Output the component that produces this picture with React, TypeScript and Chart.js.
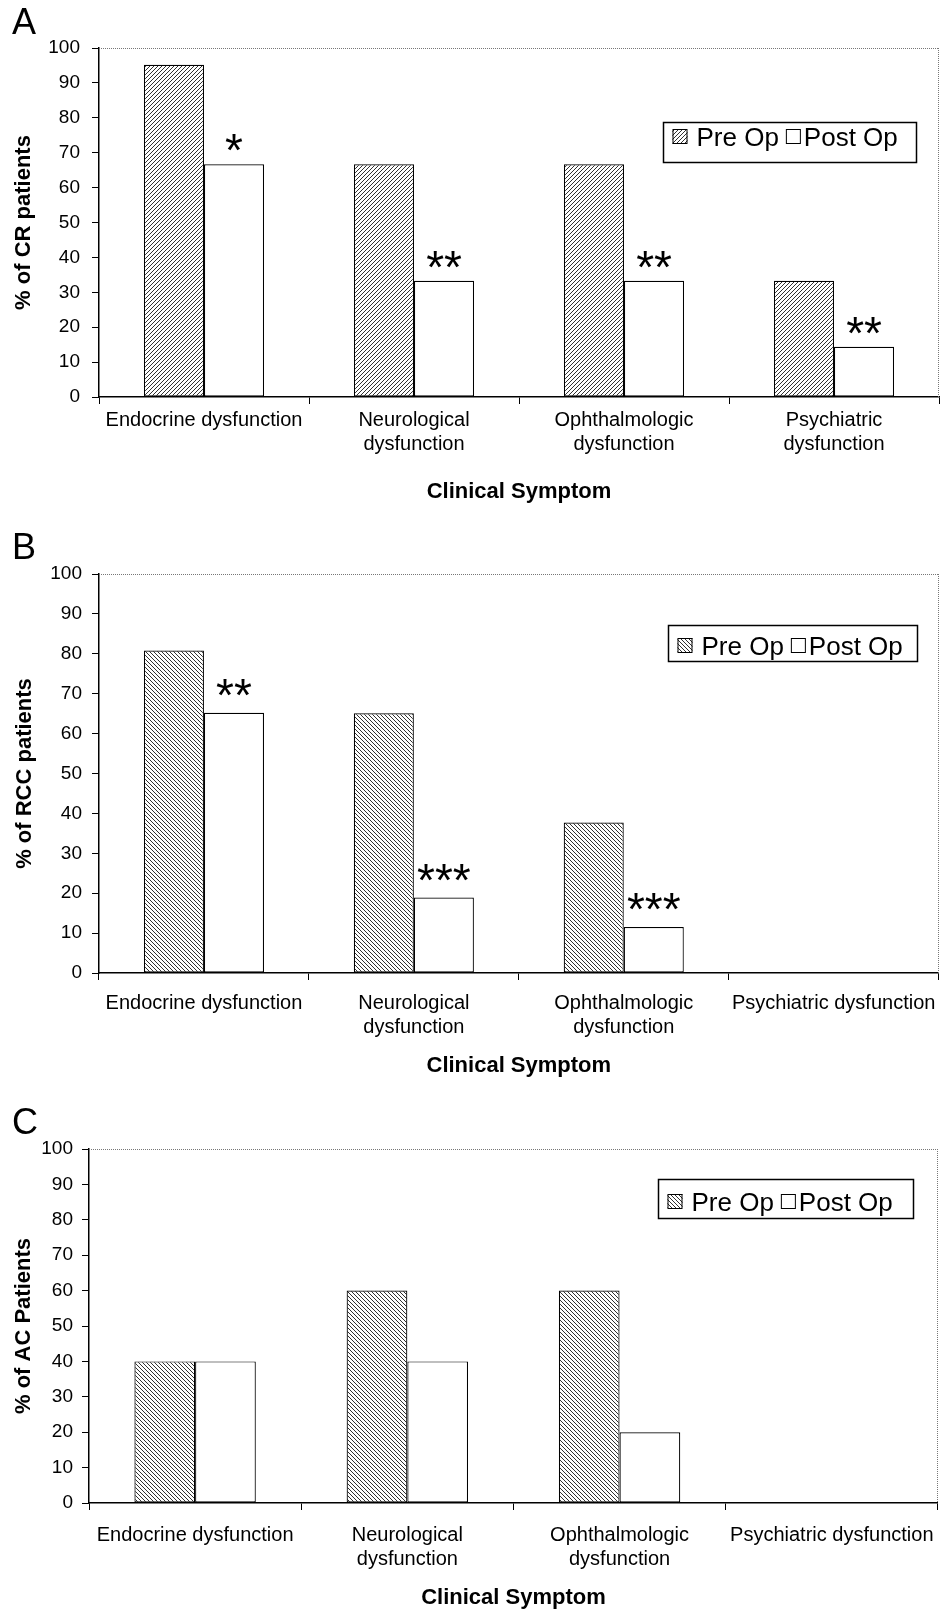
import React, { useEffect, useRef } from 'react';
import { Chart, registerables } from 'chart.js';

Chart.register(...registerables);

// ---------------- data ----------------
const seriesLabels = ['Pre Op', 'Post Op'];
const xTitle = 'Clinical Symptom';
const yMin = 0;
const yMax = 100;
const yStep = 10;

const categoriesA = [
  ['Endocrine dysfunction'],
  ['Neurological', 'dysfunction'],
  ['Ophthalmologic', 'dysfunction'],
  ['Psychiatric', 'dysfunction'],
];
const categoriesBC = [
  ['Endocrine dysfunction'],
  ['Neurological', 'dysfunction'],
  ['Ophthalmologic', 'dysfunction'],
  ['Psychiatric dysfunction'],
];

const preOpA = [95.2, 66.7, 66.7, 33.3];
const postOpA = [66.7, 33.3, 33.3, 14.4];
const sigA = ['*', '**', '**', '**'];

const preOpB = [80.8, 65.1, 37.7, 0];
const postOpB = [65.2, 18.9, 11.5, 0];
const sigB = ['**', '***', '***', ''];

const preOpC = [40, 60, 60, 0];
const postOpC = [40, 40, 20, 0];
const sigC = ['', '', '', ''];

const panelLetters = ['A', 'B', 'C'];
const yTitles = ['% of CR patients', '% of RCC patients', '% of AC Patients'];

// ---------------- layout / style config ----------------
const FONT = '"Liberation Sans", Arial, Helvetica, sans-serif';

type Panel = {
  letter: string;
  yTitle: string;
  labels: string[][];
  pre: number[];
  post: number[];
  sig: string[];
  hatchDir: 'fwd' | 'back';
  top: number;
  height: number;
  padTop: number;
  padRight: number;
  yWidth: number;
  yTickPad: number;
  yTitlePad: number;
  xHeight: number;
  xTickPad: number;
  letterBaseline: number;
  sigGap: number;
  legend: { rightGap: number; top: number; w: number; h: number; mid: number };
};

const panels: Panel[] = [
  {
    letter: panelLetters[0], yTitle: yTitles[0], labels: categoriesA,
    pre: preOpA, post: postOpA, sig: sigA, hatchDir: 'fwd',
    top: 0, height: 505, padTop: 48, padRight: 8, yWidth: 99, yTickPad: 12, yTitlePad: 11,
    xHeight: 108, xTickPad: 4, letterBaseline: 34, sigGap: 13,
    legend: { rightGap: 23, top: 74, w: 253, h: 40, mid: 14 },
  },
  {
    letter: panelLetters[1], yTitle: yTitles[1], labels: categoriesBC,
    pre: preOpB, post: postOpB, sig: sigB, hatchDir: 'back',
    top: 530, height: 549, padTop: 44, padRight: 5, yWidth: 99, yTickPad: 10, yTitlePad: 12,
    xHeight: 106, xTickPad: 11, letterBaseline: 29, sigGap: 17,
    legend: { rightGap: 22, top: 51, w: 249, h: 36, mid: 20 },
  },
  {
    letter: panelLetters[2], yTitle: yTitles[2], labels: categoriesBC,
    pre: preOpC, post: postOpC, sig: sigC, hatchDir: 'back',
    top: 1100, height: 511, padTop: 49, padRight: 4, yWidth: 89, yTickPad: 9, yTitlePad: 11,
    xHeight: 108, xTickPad: 13, letterBaseline: 34, sigGap: 15,
    legend: { rightGap: 25, top: 30, w: 255, h: 39, mid: 22 },
  },
];

function makeHatch(ctx: CanvasRenderingContext2D, dir: 'fwd' | 'back', period: number) {
  const c = document.createElement('canvas');
  c.width = period;
  c.height = period;
  const g = c.getContext('2d')!;
  g.fillStyle = '#fff';
  g.fillRect(0, 0, period, period);
  g.strokeStyle = '#1a1a1a';
  g.lineWidth = 0.9;
  g.beginPath();
  if (dir === 'fwd') {
    g.moveTo(-1, period + 1);
    g.lineTo(period + 1, -1);
    g.moveTo(-1, 1);
    g.lineTo(1, -1);
    g.moveTo(period - 1, period + 1);
    g.lineTo(period + 1, period - 1);
  } else {
    g.moveTo(-1, -1);
    g.lineTo(period + 1, period + 1);
    g.moveTo(period - 1, -1);
    g.lineTo(period + 1, 1);
    g.moveTo(-1, period - 1);
    g.lineTo(1, period + 1);
  }
  g.stroke();
  return ctx.createPattern(c, 'repeat') as CanvasPattern;
}

function PanelChart({ p }: { p: Panel }) {
  const ref = useRef<HTMLCanvasElement | null>(null);

  useEffect(() => {
    const canvas = ref.current!;
    const ctx = canvas.getContext('2d')!;
    const hatch = makeHatch(ctx, p.hatchDir, 4);

    const decor = {
      id: 'decor' + p.letter,
      beforeDatasetsDraw(chart: any) {
        const { ctx: c, chartArea: a } = chart;
        c.save();
        c.strokeStyle = '#777';
        c.lineWidth = 1;
        c.setLineDash([1, 1]);
        c.beginPath();
        c.moveTo(a.left, Math.round(a.top) + 0.5);
        c.lineTo(a.right, Math.round(a.top) + 0.5);
        c.moveTo(Math.round(a.right) - 0.5, a.top);
        c.lineTo(Math.round(a.right) - 0.5, a.bottom);
        c.stroke();
        c.restore();
      },
      afterDatasetsDraw(chart: any) {
        const { ctx: c } = chart;
        c.save();
        c.font = `46px ${FONT}`;
        c.fillStyle = '#000';
        c.textAlign = 'center';
        c.textBaseline = 'alphabetic';
        const meta = chart.getDatasetMeta(1);
        meta.data.forEach((el: any, i: number) => {
          const s = p.sig[i];
          if (!s) return;
          const { x, y } = el.getProps(['x', 'y'], true);
          const m = c.measureText(s);
          const base = y - p.sigGap - m.actualBoundingBoxDescent;
          c.fillText(s, x, base);
        });
        c.restore();
      },
      afterDraw(chart: any) {
        const { ctx: c, chartArea: a } = chart;
        c.save();
        // panel letter
        c.font = `36px ${FONT}`;
        c.fillStyle = '#000';
        c.textAlign = 'left';
        c.textBaseline = 'alphabetic';
        c.fillText(p.letter, 12, p.letterBaseline);

        // legend
        const L = p.legend;
        const x0 = Math.round(a.right - L.rightGap - L.w) + 0.5;
        const y0 = Math.round(a.top + L.top) + 0.5;
        c.fillStyle = '#fff';
        c.fillRect(x0, y0, L.w, L.h);
        c.strokeStyle = '#000';
        c.lineWidth = 1.5;
        c.strokeRect(x0, y0, L.w, L.h);
        const mid = y0 + L.mid;
        const sw = 15;
        const fs = 26;
        c.font = `${fs}px ${FONT}`;
        const base = mid + (0.716 * fs) / 2;
        let x = x0 + 9;
        c.fillStyle = hatch;
        c.fillRect(x, Math.round(mid - sw / 2), sw, sw);
        c.lineWidth = 1;
        c.strokeRect(x + 0.5, Math.round(mid - sw / 2) + 0.5, sw - 1, sw - 1);
        x += sw + 9;
        c.fillStyle = '#000';
        c.fillText(seriesLabels[0], x, base);
        x += c.measureText(seriesLabels[0]).width + 7;
        c.fillStyle = '#fff';
        c.fillRect(x, Math.round(mid - sw / 2), sw, sw);
        c.strokeRect(x + 0.5, Math.round(mid - sw / 2) + 0.5, sw - 1, sw - 1);
        x += sw + 3;
        c.fillStyle = '#000';
        c.fillText(seriesLabels[1], x, base);
        c.restore();
      },
    };

    const chart = new Chart(ctx, {
      type: 'bar',
      data: {
        labels: p.labels,
        datasets: [
          {
            label: seriesLabels[0],
            data: p.pre,
            backgroundColor: hatch,
            borderColor: '#000',
            borderWidth: 1.2,
            borderSkipped: false,
            categoryPercentage: 0.572,
            barPercentage: 1.0,
          },
          {
            label: seriesLabels[1],
            data: p.post,
            backgroundColor: '#fff',
            borderColor: '#000',
            borderWidth: 1.2,
            borderSkipped: false,
            categoryPercentage: 0.572,
            barPercentage: 1.0,
          },
        ],
      },
      options: {
        responsive: false,
        animation: false,
        devicePixelRatio: 1,
        layout: { padding: { top: p.padTop, right: p.padRight, left: 0, bottom: 0 } },
        plugins: {
          legend: { display: false },
          tooltip: { enabled: false },
          title: { display: false },
        },
        scales: {
          x: {
            grid: {
              display: true,
              drawOnChartArea: false,
              drawTicks: true,
              tickLength: 7,
              color: '#000',
              lineWidth: 1,
              offset: true,
            },
            border: { display: true, color: '#000', width: 1.5 },
            ticks: {
              color: '#000',
              font: { family: FONT, size: 20, lineHeight: 1.225 },
              padding: p.xTickPad,
              autoSkip: false,
              maxRotation: 0,
              minRotation: 0,
            },
            title: {
              display: true,
              text: xTitle,
              color: '#000',
              font: { family: FONT, size: 22, weight: 'bold', lineHeight: 1.2 },
              padding: { top: 0, bottom: 0 },
            },
            afterFit(scale: any) {
              scale.height = p.xHeight;
            },
          },
          y: {
            min: yMin,
            max: yMax,
            grid: {
              display: true,
              drawOnChartArea: false,
              drawTicks: true,
              tickLength: 7,
              color: '#000',
              lineWidth: 1,
            },
            border: { display: true, color: '#000', width: 1.5 },
            ticks: {
              stepSize: yStep,
              color: '#000',
              font: { family: FONT, size: 19 },
              padding: p.yTickPad,
            },
            title: {
              display: true,
              text: p.yTitle,
              color: '#000',
              font: { family: FONT, size: 22, weight: 'bold', lineHeight: 1.2 },
              padding: { top: p.yTitlePad, bottom: 0 },
            },
            afterFit(scale: any) {
              scale.width = p.yWidth;
            },
          },
        },
      },
      plugins: [decor],
    } as any);

    return () => chart.destroy();
  }, [p]);

  return (
    <canvas
      ref={ref}
      width={947}
      height={p.height}
      style={{ position: 'absolute', left: 0, top: p.top, width: 947, height: p.height }}
    />
  );
}

export default function App() {
  return (
    <div style={{ position: 'absolute', left: 0, top: 0, width: 947, height: 1611, background: '#fff' }}>
      {panels.map((p) => (
        <PanelChart key={p.letter} p={p} />
      ))}
    </div>
  );
}
